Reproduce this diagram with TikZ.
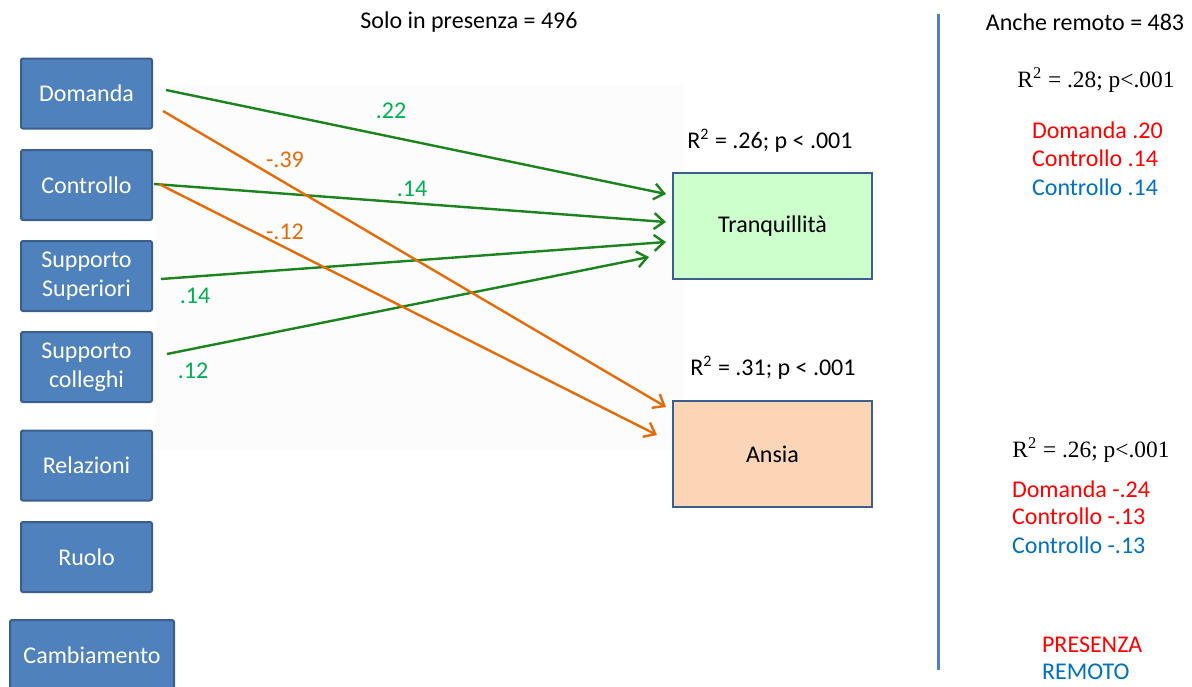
\documentclass[tikz,border=0pt]{standalone}
\usepackage{fontspec}
\setmainfont{Carlito}
\newfontfamily\timesfont{Liberation Serif}
\usetikzlibrary{arrows.meta}
\definecolor{boxblue}{HTML}{4F81BD}
\definecolor{boxedge}{HTML}{3A5F8C}
\definecolor{tranqfill}{HTML}{CCFFCC}
\definecolor{ansiafill}{HTML}{FBD5B5}
\definecolor{pathgreen}{HTML}{1C841C}
\definecolor{labgreen}{HTML}{00B050}
\definecolor{pathorange}{HTML}{E46C0A}
\definecolor{presred}{HTML}{FF0000}
\definecolor{remblue}{HTML}{0070C0}
\tikzstyle{predictor}=[draw=boxedge,fill=boxblue,line width=1pt,rounded corners=1pt,text=white,minimum width=65.5pt,minimum height=35pt,align=center,inner sep=1pt]
\tikzstyle{outcome}=[draw=boxedge,line width=1pt,minimum width=99.5pt,minimum height=53pt]
\tikzstyle{posarrow}=[pathgreen,line width=1.2pt,-{Straight Barb[length=5pt,width=8pt]}]
\tikzstyle{negarrow}=[pathorange,line width=1.2pt,-{Straight Barb[length=5pt,width=8pt]}]

\begin{document}
\begin{tikzpicture}[x=0.5pt,y=-0.5pt,every node/.style={font=\fontsize{12}{14.5}\selectfont}]
  \clip (0,0) rectangle (1192,686);
  \fill[black!1.2] (155,85) rectangle (685,450);

  % headers
  \node (solo) at (469,22) {Solo in presenza = 496};
  \node (anche) at (1085,22) {Anche remoto = 483};
  \draw[boxblue,line width=1.5pt] (938,14) -- (938,670);

  % predictors
  \node[predictor] (dom) at (86.5,93.5) {Domanda};
  \node[predictor] (con) at (86.5,185) {Controllo};
  \node[predictor] (sups) at (86.5,276) {Supporto\\Superiori};
  \node[predictor] (supc) at (86.5,367) {Supporto\\colleghi};
  \node[predictor] (rel) at (86.5,465.5) {Relazioni};
  \node[predictor] (ruo) at (86.5,557) {Ruolo};
  \node[predictor,minimum width=82pt] (cam) at (92,655) {Cambiamento};

  % outcomes
  \node[outcome,fill=tranqfill] (tranq) at (772.5,226) {Tranquillità};
  \node[outcome,fill=ansiafill] (ansia) at (772.5,454) {Ansia};
  \node (rtranq) at (770,141) {R\textsuperscript{2} = .26; p < .001};
  \node (ransia) at (773,368) {R\textsuperscript{2} = .31; p < .001};

  % paths
  \draw[posarrow] ([xshift=6.5pt,yshift=1.75pt]dom.east) -- ([xshift=-3pt,yshift=16pt]tranq.west);
  \draw[posarrow] ([xshift=0.5pt,yshift=0.5pt]con.east) -- ([xshift=-3pt,yshift=2pt]tranq.west);
  \draw[posarrow] ([xshift=4pt,yshift=-1.5pt]sups.east) -- ([xshift=-3pt,yshift=-8pt]tranq.west);
  \draw[posarrow] ([xshift=7pt,yshift=6.5pt]supc.east) -- ([xshift=-11.5pt,yshift=-15.5pt]tranq.west);
  \draw[negarrow] ([xshift=5pt,yshift=-8.75pt]dom.east) -- ([xshift=-3pt,yshift=23.5pt]ansia.west);
  \draw[negarrow] ([xshift=3pt,yshift=0.5pt]con.east) -- ([xshift=-7.5pt,yshift=9.5pt]ansia.west);

  % weights
  \node[text=labgreen] (w1) at (391,111) {.22};
  \node[text=labgreen] (w2) at (412,189) {.14};
  \node[text=labgreen] (w3) at (195,296) {.14};
  \node[text=labgreen] (w4) at (193,371) {.12};
  \node[text=pathorange] (w5) at (285,160) {-.39};
  \node[text=pathorange] (w6) at (285,232) {-.12};

  % remote column
  \node[font=\timesfont\fontsize{11.7}{14}\selectfont] (rtop) at (1096,80) {R\textsuperscript{2} = .28; p<.001};
  \node[anchor=west,text=presred] (t1) at (1025,130) {Domanda .20};
  \node[anchor=west,text=presred] (t2) at (1025,158) {Controllo .14};
  \node[anchor=west,text=remblue] (t3) at (1025,187) {Controllo .14};
  \node[font=\timesfont\fontsize{11.7}{14}\selectfont] (rbot) at (1091,450) {R\textsuperscript{2} = .26; p<.001};
  \node[anchor=west,text=presred] (b1) at (1005,489) {Domanda -.24};
  \node[anchor=west,text=presred] (b2) at (1005,516) {Controllo -.13};
  \node[anchor=west,text=remblue] (b3) at (1005,545) {Controllo -.13};
  \node[anchor=west,text=presred] (k1) at (1035,645) {PRESENZA};
  \node[anchor=west,text=remblue] (k2) at (1035,672) {REMOTO};
\end{tikzpicture}
\end{document}
